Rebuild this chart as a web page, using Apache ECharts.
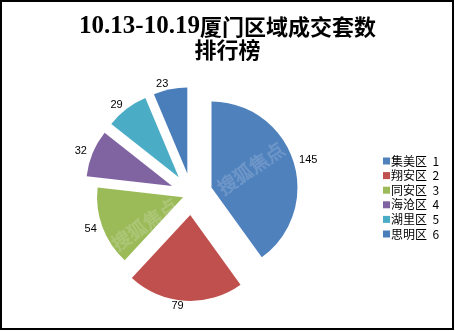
<!DOCTYPE html>
<html>
<head>
<meta charset="utf-8">
<script src="https://cdn.jsdelivr.net/npm/echarts@6/dist/echarts.min.js"></script>
<style>html,body{margin:0;padding:0;background:#fff}#c{width:455px;height:331px}</style>
</head>
<body>
<div id="c"></div>
<script>
var categories = ['集美区 1', '翔安区 2', '同安区 3', '海沧区 4', '湖里区 5', '思明区 6'];
var values = [145, 79, 54, 32, 29, 23];
var colors = ['#4F81BD', '#C0504D', '#9BBB59', '#8064A2', '#4BACC6', '#4A7EBB'];
// slice drawn with the smaller explosion
var lessExploded = ['同安区 3'];

var chart = echarts.init(document.getElementById('c'), null, {renderer: 'canvas'});

function makeData(useLess) {
  return categories.map(function (n, i) {
    var mine = (lessExploded.indexOf(n) >= 0) === useLess;
    return {
      name: n, value: values[i], selected: true,
      itemStyle: {color: mine ? colors[i] : 'rgba(0,0,0,0)'},
      label: {show: mine}
    };
  });
}

var pieBase = {
  type: 'pie',
  center: [191.5, 194],
  radius: 86,
  startAngle: 90,
  selectedMode: 'multiple',
  select: {itemStyle: {borderWidth: 0}},
  emphasis: {disabled: true},
  silent: true,
  label: {position: 'outside', formatter: '{c}', fontSize: 11, fontFamily: 'Liberation Sans', color: '#000', distanceToLabelLine: 1},
  labelLine: {show: false, length: 5, length2: 0}
};

chart.setOption({
  animation: false,
  backgroundColor: '#fff',
  color: colors,
  title: {
    left: 'center', top: 10,
    text: '{a|10.13-10.19}{b|厦门区域成交套数}\n{b|排行榜}',
    textStyle: {
      rich: {
        a: {fontFamily: 'Liberation Serif', fontWeight: 'bold', fontSize: 25, color: '#000', lineHeight: 23},
        b: {fontFamily: 'Noto Sans CJK SC', fontWeight: 'bold', fontSize: 22, color: '#000', lineHeight: 23}
      }
    }
  },
  legend: {
    orient: 'vertical', left: 378, top: 150,
    itemWidth: 7, itemHeight: 7, itemGap: 2.6,
    icon: 'rect',
    data: categories.map(function (n, i) { return {name: n, itemStyle: {color: colors[i]}}; }),
    formatter: function (n) { return n.replace(' ', '  '); },
    textStyle: {fontSize: 12, fontFamily: 'Noto Sans CJK SC', color: '#000', padding: [0, 0, 0, -4], lineHeight: 12},
    selectedMode: false
  },
  graphic: [
    {type: 'text', x: 214, y: 182, rotation: 0.6, silent: true, z: 50,
     style: {text: '搜狐焦点', font: '19px "Noto Sans CJK SC"', fill: 'rgba(255,255,255,0.1)', stroke: 'rgba(255,255,255,0.12)', lineWidth: 1}},
    {type: 'text', x: 108, y: 238, rotation: 0.6, silent: true, z: 50,
     style: {text: '搜狐焦点', font: '19px "Noto Sans CJK SC"', fill: 'rgba(255,255,255,0.1)', stroke: 'rgba(255,255,255,0.12)', lineWidth: 1}},
    {type: 'rect', shape: {x: 1, y: 1, width: 452, height: 328},
     style: {fill: 'none', stroke: '#000', lineWidth: 2}, silent: true, z: 100}
  ],
  series: [
    Object.assign({}, pieBase, {name: 'main', selectedOffset: 21, data: makeData(false)}),
    Object.assign({}, pieBase, {name: 'less', selectedOffset: 9, data: makeData(true)})
  ]
});
</script>
</body>
</html>
